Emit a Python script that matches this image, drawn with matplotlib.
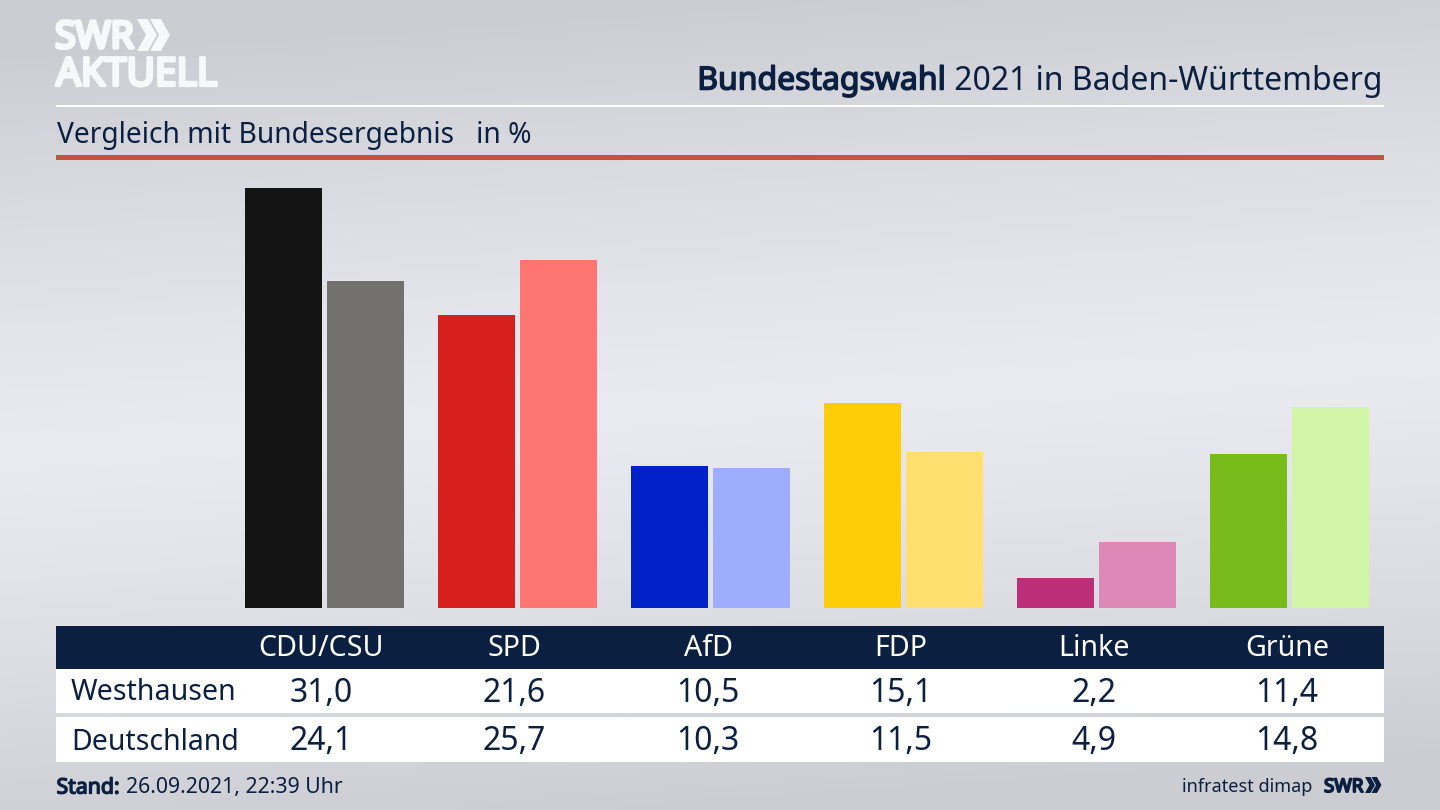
#!/usr/bin/env python3
"""Bundestagswahl 2021 result chart: Westhausen vs. Deutschland."""

import matplotlib
matplotlib.use("Agg")
import matplotlib.patheffects as pe
import matplotlib.pyplot as plt
import numpy as np
from matplotlib.patches import Polygon, Rectangle

parties = ["CDU/CSU", "SPD", "AfD", "FDP", "Linke", "Grüne"]
westhausen = [31.0, 21.6, 10.5, 15.1, 2.2, 11.4]
deutschland = [24.1, 25.7, 10.3, 11.5, 4.9, 14.8]
colors_local = ["#141414", "#d71f1d", "#0021c8", "#ffcc08", "#bc2f78", "#78bc1b"]
colors_national = ["#73716e", "#ff7571", "#9fadff", "#ffdf70", "#de88b8", "#d2f6a8"]

NAVY = "#0b2040"
LOGO = "#f7f8f9"
FONT = "Noto Sans"
W, H = 1440, 810

plt.rcParams["font.family"] = [FONT, "DejaVu Sans"]


def fmt(value):
    return f"{value:.1f}".replace(".", ",")


def heavy(color, width):
    # the regular face only, so thicken it with a stroke
    return [pe.withStroke(linewidth=width, foreground=color)]


def chevrons(ax, x, y, h, color):
    # the two arrows of the SWR logo
    w = h * 0.62
    t = h * 0.34
    for dx in (0, t * 1.2):
        pts = [(x + dx, y), (x + dx + t, y), (x + dx + w, y + h / 2),
               (x + dx + t, y + h), (x + dx, y + h), (x + dx + w - t, y + h / 2)]
        ax.add_patch(Polygon(pts, closed=True, color=color, lw=0))


fig = plt.figure(figsize=(W / 100, H / 100), dpi=100)

# background gradient, lighter band through the middle
bg = fig.add_axes([0, 0, 1, 1], zorder=0)
yy, xx = np.mgrid[0:1:81j, 0:1:144j]
shade = 1 - np.clip(np.abs(yy - 0.5 + (xx - 0.5) * 0.12) / 0.5, 0, 1) ** 1.3
gray = 0.80 + 0.115 * shade
rgb = np.dstack([gray, gray + 0.005, gray + 0.025])
bg.imshow(np.clip(rgb, 0, 1), extent=(0, 1, 0, 1), aspect="auto", interpolation="bicubic")
bg.axis("off")

# bars, axes spans x 56-1384 and y 188-608 in pixels
chart = fig.add_axes([56 / W, 1 - 608 / H, 1328 / W, 420 / H], zorder=1)
chart.patch.set_alpha(0)
x = np.arange(len(parties))
chart.bar(x - 0.2124, westhausen, width=0.4, color=colors_local)
chart.bar(x + 0.2124, deutschland, width=0.4, color=colors_national)
chart.set_xlim((56 - 324.5) / 193, (1384 - 324.5) / 193)
chart.set_ylim(0, 31)
chart.axis("off")

# header, table and footer in pixel coordinates
over = fig.add_axes([0, 0, 1, 1], zorder=2)
over.set_xlim(0, W)
over.set_ylim(H, 0)
over.axis("off")
over.patch.set_alpha(0)

over.text(55, 38, "SWR", color=LOGO, fontsize=27, va="center", ha="left",
          path_effects=heavy(LOGO, 2.6))
chevrons(over, 137, 19, 32, LOGO)
over.text(56, 75.5, "AKTUELL", color=LOGO, fontsize=28, va="center", ha="left",
          path_effects=heavy(LOGO, 2.4))

title_rest = over.text(1383, 81, " 2021 in Baden-Württemberg", color=NAVY, fontsize=23,
                       va="center", ha="right")
fig.canvas.draw()
bb = title_rest.get_window_extent()
over.text(bb.x0, 81, "Bundestagswahl", color=NAVY, fontsize=23, va="center", ha="right",
          path_effects=heavy(NAVY, 1.1))

over.add_patch(Rectangle((56, 104.5), 1328, 2.5, color="#ffffff", lw=0))
over.text(57, 135, "Vergleich mit Bundesergebnis   in %", color=NAVY, fontsize=20.3,
          va="center", ha="left")
over.add_patch(Rectangle((56, 155), 1328, 5, color="#c8503c", lw=0))

over.add_patch(Rectangle((56, 625.5), 1328, 43, color=NAVY, lw=0))
over.add_patch(Rectangle((56, 668.5), 1328, 44.5, color="#ffffff", lw=0))
over.add_patch(Rectangle((56, 717), 1328, 45, color="#ffffff", lw=0))

col_x = [321.5, 514.5, 708, 901, 1094, 1287]
for cx, party, a, b in zip(col_x, parties, westhausen, deutschland):
    over.text(cx, 649, party, color="#ffffff", fontsize=20.6, va="center", ha="center")
    over.text(cx, 693, fmt(a), color=NAVY, fontsize=23, va="center", ha="center")
    over.text(cx, 742, fmt(b), color=NAVY, fontsize=23, va="center", ha="center")
over.text(71, 693, "Westhausen", color=NAVY, fontsize=20.6, va="center", ha="left")
over.text(71, 742, "Deutschland", color=NAVY, fontsize=20.5, va="center", ha="left")

stand = over.text(56.5, 788, "Stand:", color=NAVY, fontsize=15.3, va="center", ha="left",
                  path_effects=heavy(NAVY, 1.0))
fig.canvas.draw()
over.text(126, 788, "26.09.2021, 22:39 Uhr", color=NAVY, fontsize=15.3, va="center", ha="left")

over.text(1312, 787, "infratest dimap", color=NAVY, fontsize=13, va="center", ha="right")
over.text(1324, 787, "SWR", color=NAVY, fontsize=13.5, va="center", ha="left",
          path_effects=heavy(NAVY, 1.3))
chevrons(over, 1365, 777, 16, NAVY)

fig.savefig("out.png", dpi=100)
